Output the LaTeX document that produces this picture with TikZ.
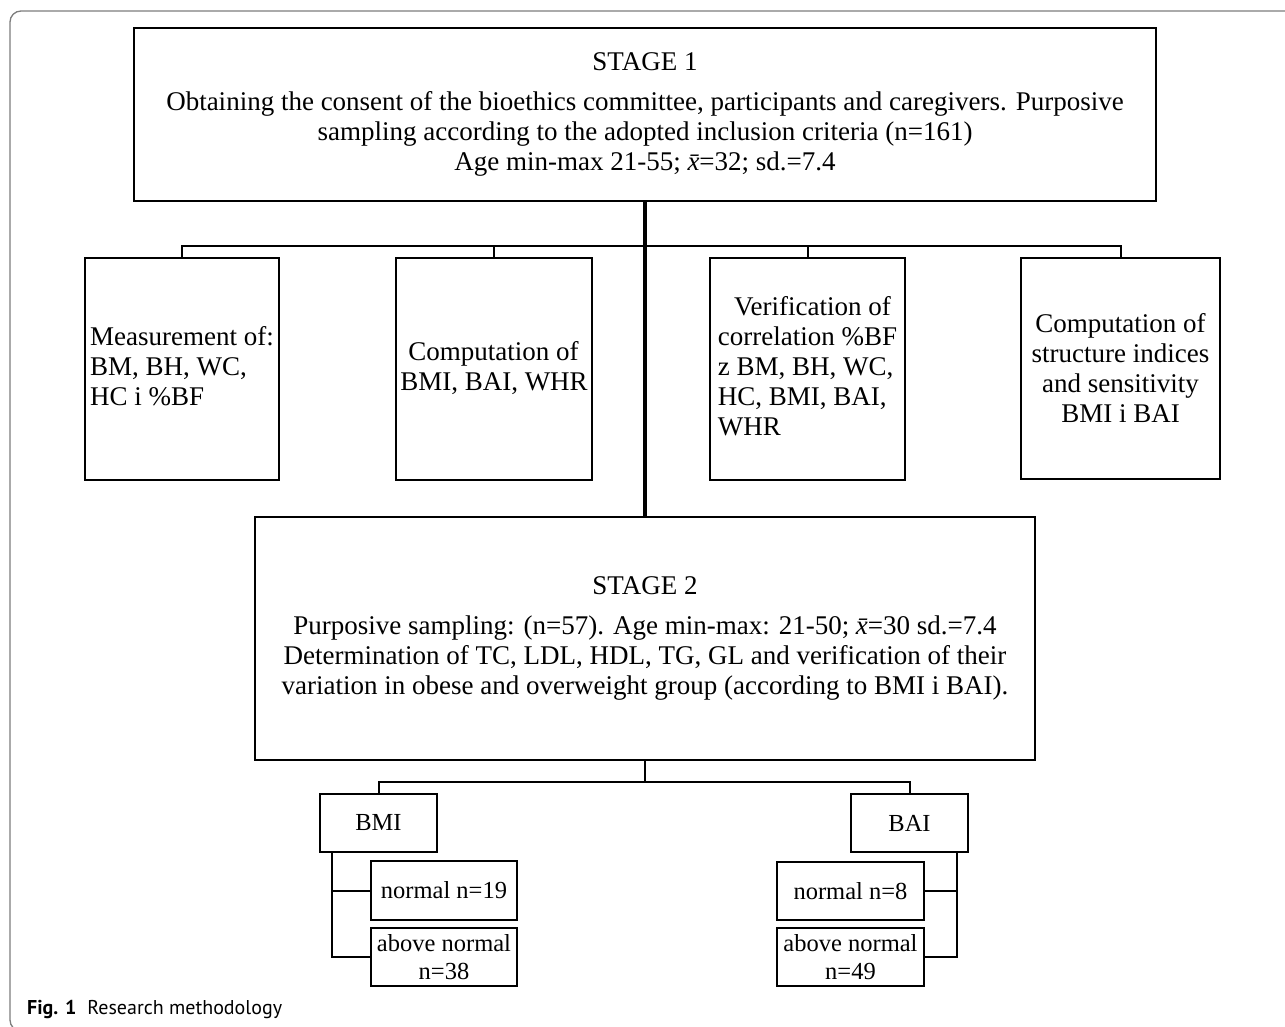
\documentclass[tikz,border=0pt]{standalone}
\usepackage{fontspec}
\setmainfont{Liberation Serif}
\newfontfamily\capfont{PT Sans}
\usetikzlibrary{calc}
\definecolor{framegray}{RGB}{125,125,125}
\newcommand{\xbarit}{{\itshape x^^^^0304}}
\begin{document}
\begin{tikzpicture}[x=1pt,y=-1pt,
  box/.style={draw, line width=2pt, inner sep=0pt, align=center,
    font=\fontsize{27}{30}\selectfont},
  smallbox/.style={box, font=\fontsize{24.5}{28}\selectfont},
  conn/.style={line width=2pt},
  trunk/.style={line width=3.8pt},
  frameline/.style={draw=framegray, line width=1.3pt, rounded corners=11pt}]
\useasboundingbox (0,0) rectangle (1285,1027);
\draw[frameline] (1300,11) -- (10,11) -- (10,1031) -- (60,1031);
% stage 1
\node[box, minimum width=1022, minimum height=173] (s1) at (645,114.5)
  {STAGE 1\\[10pt]
   Obtaining the consent of the bioethics committee, participants and caregivers. Purposive\\
   sampling according to the adopted inclusion criteria (n=161)\\
   Age min-max 21-55; \xbarit=32; sd.=7.4};
% four boxes
\node[box, minimum width=194, minimum height=222] (b1) at (182,369)
  {\begin{tabular}{@{}l@{}}Measurement of:\\BM, BH, WC,\\HC i \%BF\end{tabular}};
\node[box, minimum width=196, minimum height=222] (b2) at (494,369)
  {\begin{tabular}{@{}l@{}}\hspace*{0.3em}Computation of\\BMI, BAI, WHR\end{tabular}};
\node[box, minimum width=195, minimum height=222] (b3) at (807.5,369)
  {\begin{tabular}{@{}l@{}}\hspace*{0.6em}Verification of\\correlation \%BF\\z BM, BH, WC,\\HC, BMI, BAI,\\WHR\end{tabular}};
\node[box, minimum width=199, minimum height=221] (b4) at (1120.5,368.5)
  {Computation of\\structure indices\\and sensitivity\\BMI i BAI};
% stage 2
\node[box, minimum width=780, minimum height=243] (s2) at (645,638.5)
  {STAGE 2\\[10pt]
   Purposive sampling: (n=57). Age min-max: 21-50; \xbarit=30 sd.=7.4\\
   Determination of TC, LDL, HDL, TG, GL and verification of their\\
   variation in obese and overweight group (according to BMI i BAI).};
% bottom boxes
\node[smallbox, minimum width=117, minimum height=58] (bmi) at (378.5,823) {BMI};
\node[smallbox, minimum width=117, minimum height=58] (bai) at (909.5,823) {BAI};
\node[smallbox, minimum width=146, minimum height=59] (n19) at (444,890.5) {normal n=19};
\node[smallbox, minimum width=146, minimum height=58] (a38) at (444,957) {above normal\\n=38};
\node[smallbox, minimum width=147, minimum height=58] (n8) at (850.5,891) {normal n=8};
\node[smallbox, minimum width=147, minimum height=58] (a49) at (850.5,957) {above normal\\n=49};
% connectors top
\coordinate (j) at (645,246);
\draw[trunk] (s1.south) -- (s2.north);
\draw[conn] (b1.north) |- (j) -| (b4.north);
\draw[conn] (b2.north) |- (j);
\draw[conn] (b3.north) |- (j);
% connectors bottom
\coordinate (k) at (645,782);
\draw[conn] (s2.south) -- (k);
\draw[conn] (bmi.north) |- (k) -| (bai.north);
\coordinate (v1) at ([xshift=13pt]bmi.south west);
\coordinate (v2) at ([xshift=-12pt]bai.south east);
\draw[conn] (v1) |- (n19.west);
\draw[conn] (v1) |- (a38.west);
\draw[conn] (v2) |- (n8.east);
\draw[conn] (v2) |- (a49.east);
% caption
\node[anchor=base west, inner sep=0pt, font=\capfont\fontsize{20}{23}\selectfont] (cap) at (27,1014)
  {\textbf{Fig. 1}\hspace{0.55em}Research methodology};
\end{tikzpicture}
\end{document}
